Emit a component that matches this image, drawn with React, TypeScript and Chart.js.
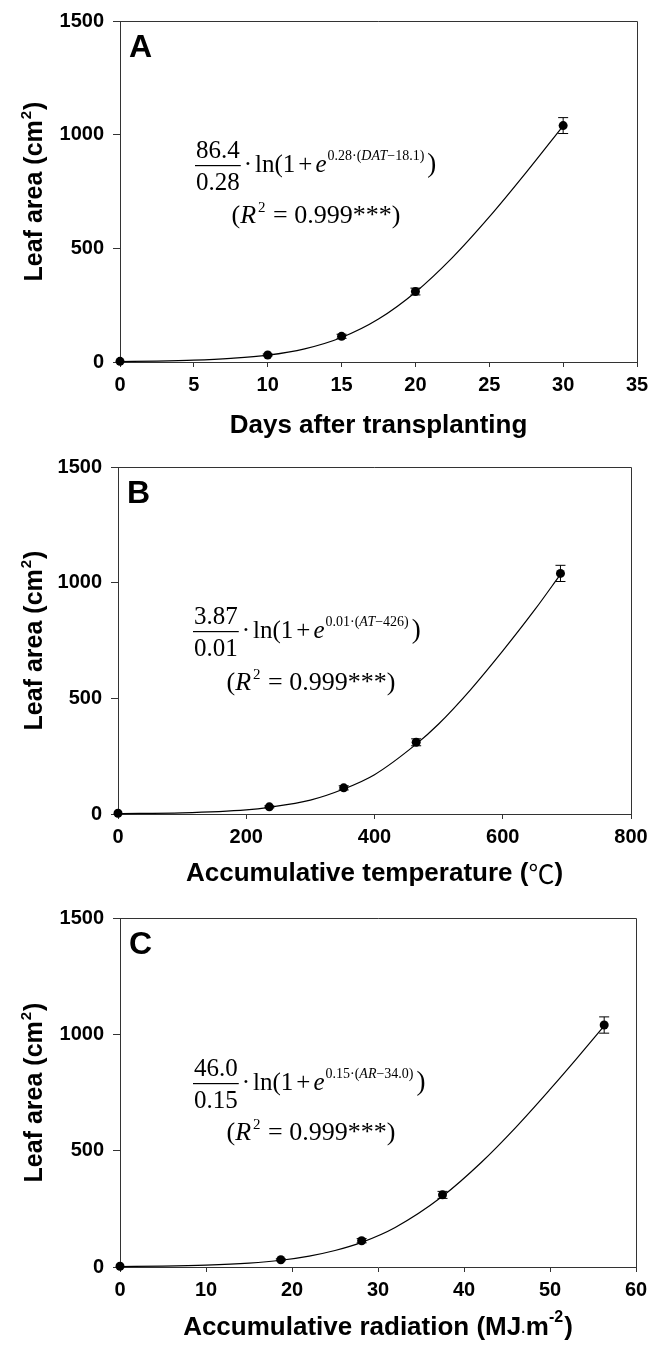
import React, { useEffect, useRef } from 'react';
import { Chart, registerables } from 'chart.js';
Chart.register(...registerables);

// ---- data ----
const daysAfterTransplanting = [0, 10, 15, 20, 30];
const accumTemperature = [0, 236, 352, 465, 690];
const accumRadiation = [0, 18.7, 28.1, 37.5, 56.3];
const leafArea = [3, 31, 113, 310, 1040];
const leafAreaError = [0, 4, 9, 15, 35];

// fitted curves
const curveDaysX = [0, 2.5, 5, 7.5, 10, 12.5, 15, 17.5, 20, 22.5, 25, 27.5, 30];
const curveDaysY = [2, 4, 8, 16, 30, 58, 108, 189, 307, 459, 638, 834, 1039];
const curveTempX = [0, 100, 200, 236, 300, 352, 400, 465, 500, 550, 600, 650, 690];
const curveTempY = [1.5, 5, 18, 29, 60, 108, 170, 302, 389, 538, 705, 883, 1036];
const curveRadX = [0, 5, 10, 15, 18.7, 22, 25, 28.1, 32, 37.5, 42, 46, 50, 53, 56.3];
const curveRadY = [2, 4, 8.3, 17, 29, 47, 71, 106, 170, 304, 449, 599, 763, 891, 1036];

const yTicks = [0, 500, 1000, 1500];
const xTicksDays = [0, 5, 10, 15, 20, 25, 30, 35];
const xTicksTemp = [0, 200, 400, 600, 800];
const xTicksRad = [0, 10, 20, 30, 40, 50, 60];

const SANS = '"Liberation Sans", Arial, "Noto Sans CJK SC", sans-serif';
const SERIF = '"Liberation Serif", "Times New Roman", Times, serif';
const AXIS = '#333';

type Seg = { t: string; f: string; dy?: number; dx?: number };

function segWidth(ctx: CanvasRenderingContext2D, segs: Seg[]) {
  let w = 0;
  for (const s of segs) {
    ctx.font = s.f;
    w += (s.dx || 0) + ctx.measureText(s.t).width;
  }
  return w;
}

function drawSegs(ctx: CanvasRenderingContext2D, segs: Seg[], x: number, y: number, align: 'left' | 'center') {
  const total = segWidth(ctx, segs);
  let cx = align === 'center' ? x - total / 2 : x;
  for (const s of segs) {
    ctx.font = s.f;
    cx += s.dx || 0;
    ctx.fillText(s.t, cx, y + (s.dy || 0));
    cx += ctx.measureText(s.t).width;
  }
  return total;
}

interface PanelProps {
  letter: string;
  xs: number[];
  curveX: number[];
  curveY: number[];
  xMin: number;
  xMax: number;
  xTicks: number[];
  xTitle: Seg[];
  height: number;
  top: number;
  left: number;
  right: number;
  bottom: number;
  xTitleY: number;
  eq: { num: string; den: string; expPre: string; expVar: string; expPost: string; x0: number; yb: number; r2x: number; r2y: number };
}

function Panel(p: PanelProps) {
  const ref = useRef<HTMLCanvasElement | null>(null);
  useEffect(() => {
    const canvas = ref.current;
    if (!canvas) return;

    const frame = {
      id: 'frame',
      afterDatasetsDraw(chart: any) {
        const { ctx, chartArea: a } = chart;
        ctx.save();
        ctx.strokeStyle = AXIS;
        ctx.lineWidth = 1;
        ctx.beginPath();
        ctx.moveTo(a.left, a.top + 0.5);
        ctx.lineTo(a.right + 0.5, a.top + 0.5);
        ctx.lineTo(a.right + 0.5, a.bottom);
        ctx.stroke();
        ctx.restore();
      },
    };

    const errorBars = {
      id: 'errorBars',
      afterDatasetsDraw(chart: any) {
        const { ctx, scales } = chart;
        ctx.save();
        ctx.strokeStyle = '#000';
        ctx.lineWidth = 1;
        p.xs.forEach((xv, i) => {
          const e = leafAreaError[i];
          if (!e) return;
          const px = scales.x.getPixelForValue(xv);
          const y1 = scales.y.getPixelForValue(leafArea[i] + e);
          const y2 = scales.y.getPixelForValue(leafArea[i] - e);
          ctx.beginPath();
          ctx.moveTo(px, y1);
          ctx.lineTo(px, y2);
          ctx.moveTo(px - 5, y1);
          ctx.lineTo(px + 5, y1);
          ctx.moveTo(px - 5, y2);
          ctx.lineTo(px + 5, y2);
          ctx.stroke();
        });
        ctx.restore();
      },
    };

    const texts = {
      id: 'texts',
      afterDraw(chart: any) {
        const { ctx, chartArea: a } = chart;
        ctx.save();
        ctx.fillStyle = '#000';
        ctx.textBaseline = 'alphabetic';
        // panel letter
        ctx.font = `bold 32px ${SANS}`;
        ctx.fillText(p.letter, a.left + 9, a.top + 36);
        // y title
        ctx.save();
        ctx.translate(42, (a.top + a.bottom) / 2);
        ctx.rotate(-Math.PI / 2);
        drawSegs(ctx, [
          { t: 'Leaf area (cm', f: `bold 25px ${SANS}` },
          { t: '2', f: `bold 15px ${SANS}`, dy: -11, dx: 1 },
          { t: ')', f: `bold 25px ${SANS}`, dx: 1 },
        ], 0, 0, 'center');
        ctx.restore();
        // x title
        ctx.textBaseline = 'middle';
        drawSegs(ctx, p.xTitle, (a.left + a.right) / 2, p.xTitleY, 'center');
        ctx.textBaseline = 'alphabetic';
        // equation
        const e = p.eq;
        const big = `25px ${SERIF}`;
        const bigI = `italic 25px ${SERIF}`;
        const sm = `14px ${SERIF}`;
        const smI = `italic 14px ${SERIF}`;
        ctx.font = big;
        const nw = ctx.measureText(e.num).width;
        const dw = ctx.measureText(e.den).width;
        const bw = Math.max(nw, dw) + 2;
        ctx.fillText(e.num, e.x0 + (bw - nw) / 2, e.yb - 14);
        ctx.fillText(e.den, e.x0 + (bw - dw) / 2, e.yb + 18);
        ctx.fillRect(e.x0, e.yb - 7, bw, 1.2);
        drawSegs(ctx, [
          { t: '\u00B7', f: big, dx: bw + 3 },
          { t: 'ln(1', f: big, dx: 3 },
          { t: '+', f: big, dx: 3 },
          { t: 'e', f: bigI, dx: 3 },
          { t: e.expPre, f: sm, dy: -12, dx: 1 },
          { t: e.expVar, f: smI, dy: -12 },
          { t: e.expPost, f: sm, dy: -12 },
          { t: ')', f: `27px ${SERIF}`, dx: 3 },
        ], e.x0, e.yb, 'left');
        drawSegs(ctx, [
          { t: '(', f: `26px ${SERIF}` },
          { t: 'R', f: `italic 26px ${SERIF}` },
          { t: '2', f: `15px ${SERIF}`, dy: -11, dx: 2 },
          { t: ' = 0.999', f: `26px ${SERIF}`, dx: 1 },
          { t: '***', f: `26px ${SERIF}` },
          { t: ')', f: `26px ${SERIF}` },
        ], e.r2x, e.r2y, 'center');
        ctx.restore();
      },
    };

    const tickFont = { family: SANS, size: 20, weight: 'bold' as const };
    const chart = new Chart(canvas, {
      type: 'scatter',
      data: {
        datasets: [
          {
            type: 'line',
            data: p.curveX.map((x, i) => ({ x, y: p.curveY[i] })),
            borderColor: '#000',
            borderWidth: 1.2,
            pointRadius: 0,
            fill: false,
            cubicInterpolationMode: 'monotone',
            clip: false,
          } as any,
          {
            type: 'scatter',
            data: p.xs.map((x, i) => ({ x, y: leafArea[i] })),
            pointRadius: 4.5,
            backgroundColor: '#000',
            borderColor: '#000',
            borderWidth: 0,
            clip: false,
          } as any,
        ],
      },
      options: {
        animation: false,
        responsive: false,
        maintainAspectRatio: false,
        events: [],
        layout: { padding: { top: p.top, right: 656 - p.right, left: 0, bottom: 0 } },
        plugins: { legend: { display: false }, tooltip: { enabled: false } },
        scales: {
          x: {
            type: 'linear',
            min: p.xMin,
            max: p.xMax,
            afterBuildTicks: (s: any) => { s.ticks = p.xTicks.map((v) => ({ value: v })); },
            ticks: { font: tickFont, color: '#000', padding: 6, maxRotation: 0, autoSkip: false, callback: (v: any) => String(v) },
            grid: { display: true, drawOnChartArea: false, drawTicks: true, tickLength: 5, color: AXIS },
            border: { display: true, color: AXIS, width: 1 },
            afterFit: (s: any) => { s.height = p.height - p.bottom; },
          },
          y: {
            type: 'linear',
            min: 0,
            max: 1500,
            afterBuildTicks: (s: any) => { s.ticks = yTicks.map((v) => ({ value: v })); },
            ticks: { font: tickFont, color: '#000', padding: 9, callback: (v: any) => String(v) },
            grid: { display: true, drawOnChartArea: false, drawTicks: true, tickLength: 7, color: AXIS },
            border: { display: true, color: AXIS, width: 1 },
            afterFit: (s: any) => { s.width = p.left; },
          },
        },
      } as any,
      plugins: [frame, errorBars, texts],
    });
    return () => chart.destroy();
  }, []);
  return (
    <div style={{ width: 656, height: p.height, position: 'relative' }}>
      <canvas ref={ref} width={656} height={p.height} style={{ display: 'block', width: 656, height: p.height }} />
    </div>
  );
}

export default function App() {
  return (
    <div style={{ position: 'absolute', left: 0, top: 0, width: 656, height: 1347, background: '#fff' }}>
      <Panel
        letter="A"
        xs={daysAfterTransplanting}
        curveX={curveDaysX}
        curveY={curveDaysY}
        xMin={0}
        xMax={35}
        xTicks={xTicksDays}
        xTitle={[{ t: 'Days after transplanting', f: `bold 26px ${SANS}` }]}
        height={440}
        top={13}
        left={120}
        right={637}
        bottom={362}
        xTitleY={426}
        eq={{ num: '86.4', den: '0.28', expPre: '0.28\u00B7(', expVar: 'DAT', expPost: '\u221218.1)', x0: 195, yb: 172, r2x: 316, r2y: 223 }}
      />
      <Panel
        letter="B"
        xs={accumTemperature}
        curveX={curveTempX}
        curveY={curveTempY}
        xMin={0}
        xMax={800}
        xTicks={xTicksTemp}
        xTitle={[
          { t: 'Accumulative temperature (', f: `bold 26px ${SANS}` },
          { t: '\u2103', f: `26px "Noto Sans CJK SC", ${SANS}` },
          { t: ')', f: `bold 26px ${SANS}` },
        ]}
        height={450}
        top={27}
        left={118}
        right={631}
        bottom={374}
        xTitleY={434}
        eq={{ num: '3.87', den: '0.01', expPre: '0.01\u00B7(', expVar: 'AT', expPost: '\u2212426)', x0: 193, yb: 198, r2x: 311, r2y: 250 }}
      />
      <Panel
        letter="C"
        xs={accumRadiation}
        curveX={curveRadX}
        curveY={curveRadY}
        xMin={0}
        xMax={60}
        xTicks={xTicksRad}
        xTitle={[
          { t: 'Accumulative radiation (MJ', f: `bold 26px ${SANS}` },
          { t: '\u00B7', f: `bold 14px ${SANS}`, dy: 5 },
          { t: 'm', f: `bold 26px ${SANS}` },
          { t: '-2', f: `bold 16px ${SANS}`, dy: -10 },
          { t: ')', f: `bold 26px ${SANS}`, dx: 1 },
        ]}
        height={457}
        top={28}
        left={120}
        right={636}
        bottom={377}
        xTitleY={438}
        eq={{ num: '46.0', den: '0.15', expPre: '0.15\u00B7(', expVar: 'AR', expPost: '\u221234.0)', x0: 193, yb: 200, r2x: 311, r2y: 250 }}
      />
    </div>
  );
}
